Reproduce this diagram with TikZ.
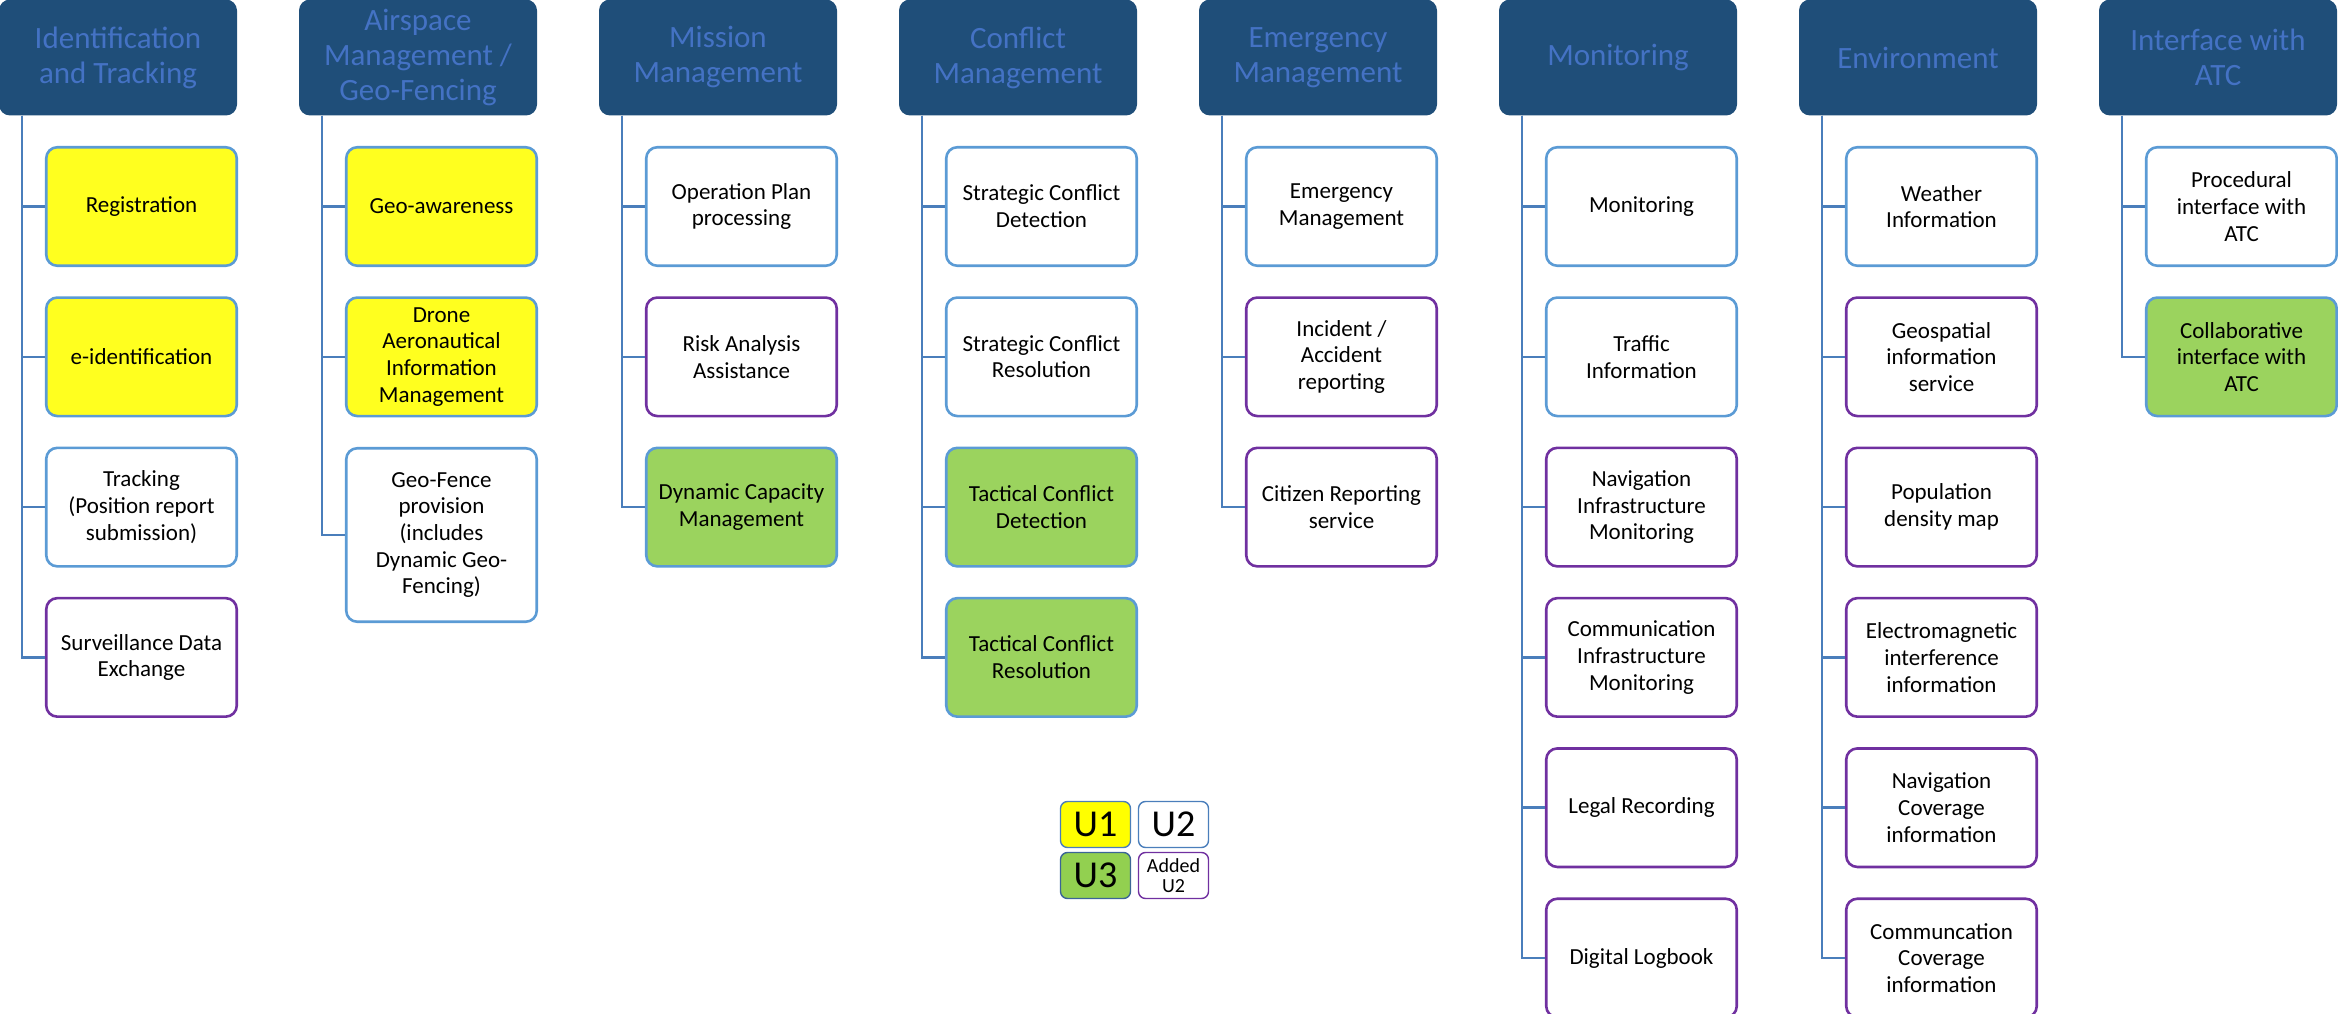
\documentclass[tikz,border=0pt]{standalone}
\usepackage{fontspec}
\setmainfont{Carlito}
\definecolor{hdrfill}{HTML}{1F4E79}
\definecolor{hdrtext}{HTML}{4472C4}
\definecolor{bluebd}{HTML}{5B9BD5}
\definecolor{purplebd}{HTML}{7030A0}
\definecolor{conncol}{HTML}{4A7EBB}
\definecolor{uyellow}{HTML}{FFFF1F}
\definecolor{ugreen}{HTML}{9BD35E}
\definecolor{lgblue}{HTML}{4A7EBB}
\definecolor{lggreen}{HTML}{92D050}
\definecolor{lgyellow}{HTML}{FFFF00}

\tikzset{
  header/.style={fill=hdrfill, draw=none, rounded corners=11pt,
    minimum width=238pt, minimum height=116pt, text=hdrtext,
    align=center, font=\fontsize{31}{35}\selectfont, inner sep=0pt},
  item/.style={draw, line width=2.6pt, rounded corners=11pt,
    minimum width=190.5pt, minimum height=118.5pt, align=center,
    font=\fontsize{23}{26.7}\selectfont, inner sep=0pt, fill=white},
  uone/.style={item, draw=bluebd, fill=uyellow},
  utwo/.style={item, draw=bluebd},
  uadd/.style={item, draw=purplebd},
  uthree/.style={item, draw=bluebd, fill=ugreen},
  conn/.style={draw=conncol, line width=2.6pt},
  legendbox/.style={draw, line width=1.4pt, rounded corners=7pt,
    minimum width=70pt, minimum height=46pt, inner sep=0pt, align=center},
}

\begin{document}
\begin{tikzpicture}[x=1pt,y=-1pt]
\useasboundingbox (0,0) rectangle (2338,1014);
\clip (0,0) rectangle (2338,1014);

% ---------------- column headers ----------------
\node[header] (h1) at (118,57.5)  {Identification\\and Tracking};
\node[header] (h2) at (418,57.5)  {Airspace\\Management /\\Geo-Fencing};
\node[header] (h3) at (718,57.5)  {Mission\\Management};
\node[header] (h4) at (1018,57.5) {Conflict\\Management};
\node[header] (h5) at (1318,57.5) {Emergency\\Management};
\node[header] (h6) at (1618,57.5) {Monitoring};
\node[header] (h7) at (1918,57.5) {Environment};
\node[header] (h8) at (2218,57.5) {Interface with\\ATC};

% ---------------- Identification and Tracking ----------------
\node[uone] (c1a) at (141.5,206.5) {Registration};
\node[uone] (c1b) at (141.5,356.8) {e-identification};
\node[utwo] (c1c) at (141.5,507.1) {Tracking\\(Position report\\submission)};
\node[uadd] (c1d) at (141.5,657.4) {Surveillance Data\\Exchange};

% ---------------- Airspace Management / Geo-Fencing ----------------
\node[uone] (c2a) at (441.5,206.5) {Geo-awareness};
\node[uone] (c2b) at (441.5,356.8) {Drone\\Aeronautical\\Information\\Management};
\node[utwo, minimum height=173.5pt] (c2c) at (441.5,535) {Geo-Fence\\provision\\(includes\\Dynamic Geo-\\Fencing)};

% ---------------- Mission Management ----------------
\node[utwo]   (c3a) at (741.5,206.5) {Operation Plan\\processing};
\node[uadd]   (c3b) at (741.5,356.8) {Risk Analysis\\Assistance};
\node[uthree] (c3c) at (741.5,507.1) {Dynamic Capacity\\Management};

% ---------------- Conflict Management ----------------
\node[utwo]   (c4a) at (1041.5,206.5) {Strategic Conflict\\Detection};
\node[utwo]   (c4b) at (1041.5,356.8) {Strategic Conflict\\Resolution};
\node[uthree] (c4c) at (1041.5,507.1) {Tactical Conflict\\Detection};
\node[uthree] (c4d) at (1041.5,657.4) {Tactical Conflict\\Resolution};

% ---------------- Emergency Management ----------------
\node[utwo] (c5a) at (1341.5,206.5) {Emergency\\Management};
\node[uadd] (c5b) at (1341.5,356.8) {Incident /\\Accident\\reporting};
\node[uadd] (c5c) at (1341.5,507.1) {Citizen Reporting\\service};

% ---------------- Monitoring ----------------
\node[utwo] (c6a) at (1641.5,206.5) {Monitoring};
\node[utwo] (c6b) at (1641.5,356.8) {Traffic\\Information};
\node[uadd] (c6c) at (1641.5,507.1) {Navigation\\Infrastructure\\Monitoring};
\node[uadd] (c6d) at (1641.5,657.4) {Communication\\Infrastructure\\Monitoring};
\node[uadd] (c6e) at (1641.5,807.7) {Legal Recording};
\node[uadd] (c6f) at (1641.5,958)   {Digital Logbook};

% ---------------- Environment ----------------
\node[utwo] (c7a) at (1941.5,206.5) {Weather\\Information};
\node[uadd] (c7b) at (1941.5,356.8) {Geospatial\\information\\service};
\node[uadd] (c7c) at (1941.5,507.1) {Population\\density map};
\node[uadd] (c7d) at (1941.5,657.4) {Electromagnetic\\interference\\information};
\node[uadd] (c7e) at (1941.5,807.7) {Navigation\\Coverage\\information};
\node[uadd] (c7f) at (1941.5,958)   {Communcation\\Coverage\\information};

% ---------------- Interface with ATC ----------------
\node[utwo]   (c8a) at (2241.5,206.5) {Procedural\\interface with\\ATC};
\node[uthree] (c8b) at (2241.5,356.8) {Collaborative\\interface with\\ATC};

% ---------------- tree connectors ----------------
\foreach \h/\kids in {h1/{c1a,c1b,c1c,c1d}, h2/{c2a,c2b,c2c}, h3/{c3a,c3b,c3c},
                      h4/{c4a,c4b,c4c,c4d}, h5/{c5a,c5b,c5c},
                      h6/{c6a,c6b,c6c,c6d,c6e,c6f},
                      h7/{c7a,c7b,c7c,c7d,c7e,c7f}, h8/{c8a,c8b}} {
  \foreach \k in \kids {
    \draw[conn] ([xshift=23pt]\h.south west) |- (\k.west);
  }
}

% ---------------- legend ----------------
\node[legendbox, draw=lgblue, fill=lgyellow, font=\fontsize{38}{40}\selectfont] (lu1) at (1095.5,824.5) {U1};
\node[legendbox, draw=lgblue, font=\fontsize{38}{40}\selectfont] (lu2) at (1173.5,824.5) {U2};
\node[legendbox, draw=lgblue!80!black, fill=lggreen, font=\fontsize{38}{40}\selectfont] (lu3) at (1095.5,875.5) {U3};
\node[legendbox, draw=purplebd, font=\fontsize{20}{20}\selectfont] (lua) at (1173.5,875.5) {Added\\U2};

\end{tikzpicture}
\end{document}
